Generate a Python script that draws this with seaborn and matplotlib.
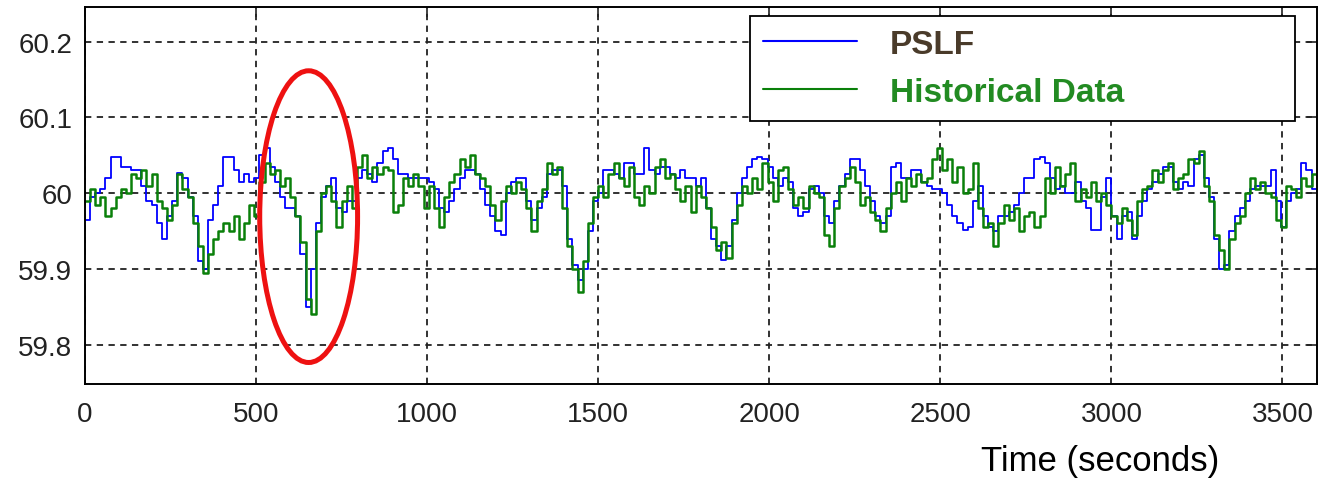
import numpy as np
import pandas as pd
import seaborn as sns
import matplotlib.pyplot as plt
from matplotlib.patches import Ellipse

# sampling grid (seconds) used for both traces
time_s = np.arange(0, 3601, 15)

# frequency deviation from 60 Hz, in mHz, every 15 s
pslf_mhz = [
    -35, -5, 0, 5, 20, 48, 48, 35, 35, 30, 30, 10, -10, -15, -40, -60, -30, -10, 27, 20,
    -5, -30, -90, -100, -35, -15, 10, 48, 48, 30, 15, 25, 15, 20, 50, 60, 35, 15, -5, -20,
    -20, -30, -80, -150, -100, -40, -5, 10, 20, -20, -25, -10, -10, 20, 30, 25, 15, 40, 55, 60,
    45, 25, 25, 20, 20, 20, 20, 15, 5, -20, -25, -10, 5, 20, 30, 30, 25, 5, -15, -30,
    -50, -55, 0, 15, 20, 20, -10, -35, -20, -5, 25, 30, 30, 10, -60, -95, -115, -100, -50, -10,
    0, 30, 30, 25, 20, 40, 40, 25, 25, 60, 30, 25, 35, 35, 25, 20, 30, 20, 20, 10,
    20, -20, -60, -70, -88, -70, -35, 0, 20, 35, 45, 48, 45, 35, 20, 10, 20, 15, -20, -30,
    -25, 5, 10, 0, -30, -40, -10, 10, 25, 45, 45, 30, 10, -10, -30, -40, -30, 35, 40, 20,
    20, 30, 30, 15, 10, 5, 5, 0, -15, -30, -40, -48, -45, -10, 10, -30, -45, -50, -30, -30,
    -25, -15, 0, 20, 20, 45, 48, 40, 20, 5, 10, 0, 0, 15, -10, -20, -48, -48, -5, 20,
    -30, -60, -30, -25, -60, -30, -10, 5, 15, 25, 35, 35, 15, 5, 15, 10, 45, 50, 20, -5,
    -60, -100, -95, -50, -30, -20, -10, 5, 10, 10, 10, 30, -10, -45, -10, 0, 5, 40, 30, 5,
    0,
]

historical_mhz = [
    -10, 5, -15, -5, -30, -20, -5, 5, 0, 25, 20, 30, 10, 25, -10, -20, -35, -15, 25, 5,
    -5, -40, -70, -105, -80, -60, -50, -40, -50, -30, -60, -40, -15, -30, 15, 40, 25, 30, 10, 20,
    -5, -30, -65, -140, -160, -50, 0, 10, -10, -45, -10, 10, -20, 35, 50, 20, 35, 25, 35, 30,
    -25, -15, 20, 10, 25, 10, -20, 10, -20, -45, -5, 15, 25, 45, 35, 50, 25, 20, 10, -15,
    -35, -10, 10, 0, 15, 5, -20, -50, -10, 5, 40, 25, 35, -20, -70, -100, -130, -90, -40, -5,
    10, -5, 25, 40, 20, 10, 35, -5, -15, 10, 0, 35, 45, 20, 25, 5, -10, 10, -25, 10,
    -5, -20, -45, -75, -65, -85, -40, -15, 10, 0, 20, 5, 40, 15, -10, 30, 35, 5, -15, -5,
    -20, 10, 0, -5, -55, -70, -20, 10, 20, 35, 15, -15, -5, -25, -35, -50, -20, 0, 15, -10,
    20, 10, 25, 15, 20, 45, 60, 30, 45, 15, 35, 0, 5, 40, -20, -45, -40, -70, -40, -15,
    -35, -20, -50, -30, -25, -45, -30, 20, 0, 35, 10, 25, 40, -10, 5, -5, 15, -10, 0, -15,
    -30, -40, -20, -35, -55, -10, 5, 10, 30, 15, 30, 40, 5, 20, 25, 45, 40, 55, 10, -10,
    -55, -75, -100, -60, -40, -30, 0, 20, 5, 15, 0, -5, -35, -45, 10, 5, -5, 20, 10, 25,
    15,
]

series_names = ["PSLF", "Historical Data"]
x_ticks = [0, 500, 1000, 1500, 2000, 2500, 3000, 3500]
y_ticks = [59.8, 59.9, 60.0, 60.1, 60.2]
y_tick_labels = ["59.8", "59.9", "60", "60.1", "60.2"]

# highlighted event (red ellipse): centre time, centre freq, width (s), height (Hz)
event_center = (654, 59.969)
event_size = (286, 0.385)

assert len(pslf_mhz) == len(time_s) and len(historical_mhz) == len(time_s)

pslf = pd.DataFrame({"time": time_s, "freq": 60 + np.array(pslf_mhz) / 1000})
hist = pd.DataFrame({"time": time_s, "freq": 60 + np.array(historical_mhz) / 1000})

sns.set_style("white")
plt.rcParams["font.family"] = ["Liberation Sans", "DejaVu Sans"]

fig = plt.figure(figsize=(13.26, 4.85), dpi=100)
ax = fig.add_axes([0.064, 0.206, 0.929, 0.778])

sns.lineplot(data=pslf, x="time", y="freq", ax=ax, color="#0000ff", linewidth=1.3,
             drawstyle="steps-post", estimator=None, label=series_names[0])
sns.lineplot(data=hist, x="time", y="freq", ax=ax, color="#0a800a", linewidth=1.8,
             drawstyle="steps-post", estimator=None, label=series_names[1])

ax.add_patch(Ellipse(event_center, event_size[0], event_size[1], fill=False,
                     edgecolor="#ee1111", linewidth=3.6, zorder=5))

ax.set_xlim(0, 3600)
ax.set_ylim(59.748, 60.246)
ax.set_xticks(x_ticks)
ax.set_xticklabels([str(v) for v in x_ticks])
ax.set_yticks(y_ticks)
ax.set_yticklabels(y_tick_labels)
ax.grid(True, color="#222222", linestyle=(0, (3.5, 3)), linewidth=1.3)
ax.tick_params(axis="both", direction="in", length=7, width=1.2, labelsize=20,
               colors="#222222", top=True, right=True)
ax.tick_params(axis="x", pad=12)
ax.tick_params(axis="y", pad=9)
for s in ax.spines.values():
    s.set_color("black")
    s.set_linewidth(1.4)

ax.set_ylabel("")
ax.set_xlabel("Time (seconds)", fontsize=25, color="black")
ax.xaxis.set_label_coords(0.824, -0.16)

leg = ax.legend(loc="upper left", bbox_to_anchor=(0.54, 0.976, 0.442, 0.0), mode="expand",
                prop={"weight": "bold", "size": 24}, frameon=True, fancybox=False,
                edgecolor="black", framealpha=1, handlelength=2.8, handletextpad=1.0,
                labelspacing=0.5, borderpad=0.4, borderaxespad=0)
leg.get_frame().set_linewidth(1.3)
for txt, col in zip(leg.get_texts(), ["#4a3b2a", "#228b22"]):
    txt.set_color(col)
for line in leg.get_lines():
    line.set_linewidth(1.5)

fig.savefig("out.png", dpi=100)
